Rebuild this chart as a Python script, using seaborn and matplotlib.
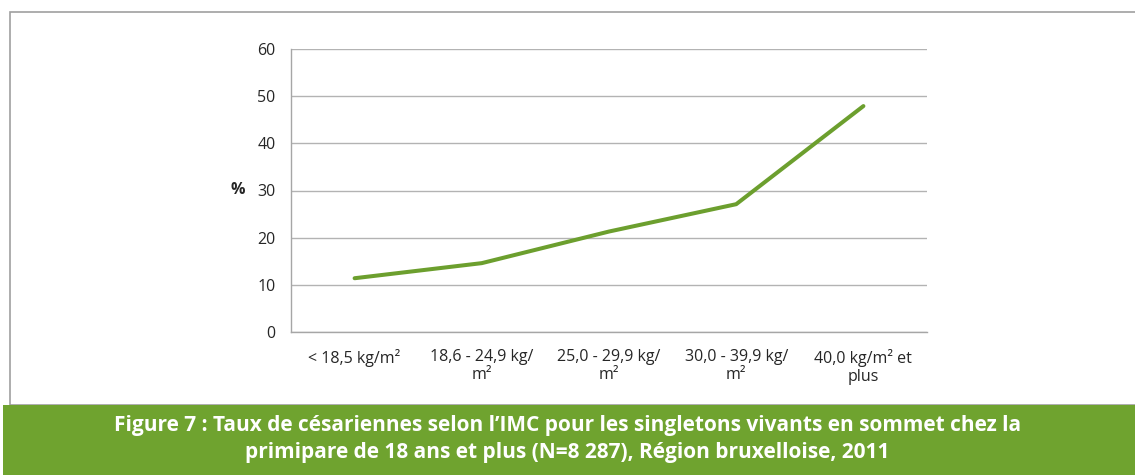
import matplotlib
matplotlib.use("Agg")
import matplotlib.pyplot as plt
import seaborn as sns
import pandas as pd
import numpy as np
from matplotlib.patches import Rectangle

# Données
categories = ["< 18,5 kg/m²", "18,6 - 24,9 kg/\nm²", "25,0 - 29,9 kg/\nm²",
              "30,0 - 39,9 kg/\nm²", "40,0 kg/m² et\nplus"]
taux = [11.4, 14.6, 21.3, 27.1, 47.9]
yticks = [0, 10, 20, 30, 40, 50, 60]

titre = ("Figure 7 : Taux de césariennes selon l’IMC pour les singletons vivants en sommet chez la\n"
         "primipare de 18 ans et plus (N=8 287), Région bruxelloise, 2011")

vert = "#6c9f2e"
gris = "#a6a6a6"

sns.set_style("white")
plt.rcParams["font.family"] = ["Open Sans", "DejaVu Sans"]

df = pd.DataFrame({"pos": np.arange(len(categories)), "taux": taux})

fig = plt.figure(figsize=(11.35, 4.75), dpi=100)

# cadre gris autour du graphique
fig.patches.append(Rectangle((10 / 1135, 70 / 475), 1130 / 1135, 393 / 475,
                             transform=fig.transFigure, fill=False,
                             edgecolor="#a0a0a0", linewidth=1.2))
# bandeau vert du titre
fig.patches.append(Rectangle((3 / 1135, 0), 1 - 3 / 1135, 70 / 475,
                             transform=fig.transFigure, facecolor="#6fa32f",
                             edgecolor="none"))
fig.text(0.5, 36 / 475, titre, ha="center", va="center", color="white",
         fontsize=15, fontweight="bold", linespacing=1.35)

ax = fig.add_axes([291 / 1135, 1 - 332 / 475, (927 - 291) / 1135, (332 - 49) / 475])
sns.lineplot(data=df, x="pos", y="taux", color=vert, linewidth=2.9, ax=ax)

ax.set_xlim(-0.5, len(categories) - 0.5)
ax.set_ylim(0, 60)
ax.set_yticks(yticks)
ax.set_yticklabels([str(v) for v in yticks], fontsize=11.5)
ax.set_xticks(range(len(categories)))
ax.set_xticklabels(categories, fontsize=11.5, linespacing=1.2)
ax.set_xticks(np.arange(-0.5, len(categories)), minor=True)
ax.tick_params(axis="x", which="major", length=0, pad=12)
ax.tick_params(axis="x", which="minor", length=5, color=gris, width=1)
ax.tick_params(axis="y", length=5, color=gris, width=1, pad=6)

ax.yaxis.grid(True, color="#b3b3b3", linewidth=1)
ax.set_axisbelow(True)
for s in ["top", "right"]:
    ax.spines[s].set_visible(False)
for s in ["left", "bottom"]:
    ax.spines[s].set_color(gris)
    ax.spines[s].set_linewidth(1)

ax.set_xlabel("")
ax.set_ylabel("%", rotation=0, fontsize=11.5, fontweight="bold", labelpad=14, va="center")

fig.savefig("out.png", dpi=100)
